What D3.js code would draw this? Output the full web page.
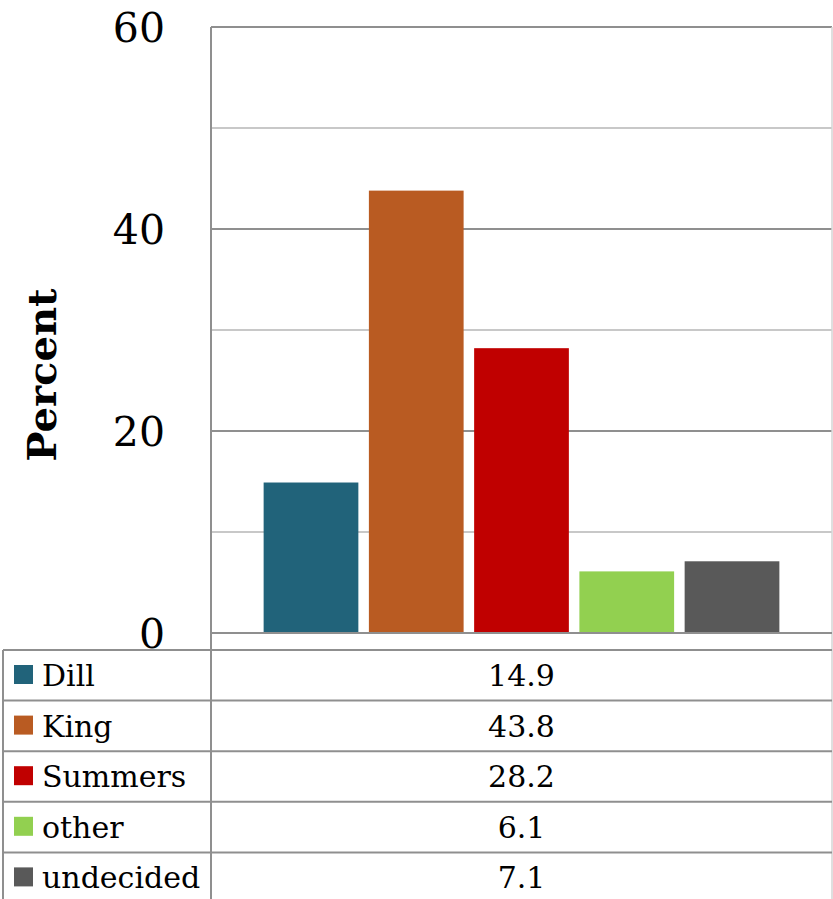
<!DOCTYPE html>
<html>
<head>
<meta charset="utf-8">
<script src="https://cdn.jsdelivr.net/npm/d3@7"></script>
<style>
  html, body { margin: 0; padding: 0; background: #fff; }
  svg { display: block; }
  text { font-family: "DejaVu Serif", "Liberation Serif", serif; fill: #000; }
</style>
</head>
<body>
<svg id="chart" width="833" height="899"></svg>
<script>
// Poll results (percent) by candidate
const series = ["Dill", "King", "Summers", "other", "undecided"];
const values = [14.9, 43.8, 28.2, 6.1, 7.1];
const colors = ["#21637a", "#b95b22", "#c00000", "#92d050", "#595959"];
const yTicks = [0, 20, 40, 60];
const yMinorTicks = [10, 30, 50];
const yTitle = "Percent";

const W = 833, H = 899;
const plot = { left: 211, right: 832, top: 27, bottom: 633 };
const table = { left: 3, top: 650, rowH: 50.6 };

const svg = d3.select("#chart");

const y = d3.scaleLinear().domain([0, 60]).range([plot.bottom, plot.top]);
const x = d3.scaleBand()
  .domain(series)
  .range([plot.left, plot.right])
  .paddingInner(0.1)
  .paddingOuter(0.5);

// Gridlines: lighter minor lines at odd tens, darker major lines
svg.append("g").selectAll("line.minor")
  .data(yMinorTicks).join("line")
  .attr("x1", plot.left).attr("x2", plot.right)
  .attr("y1", d => y(d)).attr("y2", d => y(d))
  .attr("stroke", "#c8c8c8").attr("stroke-width", 2);

svg.append("g").selectAll("line.major")
  .data(yTicks).join("line")
  .attr("x1", plot.left).attr("x2", plot.right)
  .attr("y1", d => y(d)).attr("y2", d => y(d))
  .attr("stroke", "#8f8f8f").attr("stroke-width", 2);

// Plot right border
svg.append("line")
  .attr("x1", plot.right).attr("x2", plot.right)
  .attr("y1", plot.top).attr("y2", H)
  .attr("stroke", "#d4d4d4").attr("stroke-width", 1.5);

// Bars
svg.append("g").selectAll("rect")
  .data(series.map((s, i) => ({ s, v: values[i], c: colors[i] })))
  .join("rect")
  .attr("x", d => x(d.s))
  .attr("width", x.bandwidth())
  .attr("y", d => y(d.v))
  .attr("height", d => y(0) - y(d.v))
  .attr("fill", d => d.c);

// Baseline drawn over bars
svg.append("line")
  .attr("x1", plot.left).attr("x2", plot.right)
  .attr("y1", y(0)).attr("y2", y(0))
  .attr("stroke", "#8f8f8f").attr("stroke-width", 2);

// Y axis via d3 axis, styled
const yAxis = d3.axisLeft(y).tickValues(yTicks).tickSize(0).tickPadding(0);
const gy = svg.append("g")
  .attr("transform", `translate(${plot.left},0)`)
  .call(yAxis);
gy.select(".domain").remove();
gy.selectAll(".tick text")
  .attr("x", 165 - plot.left)
  .attr("dy", "0.36em")
  .attr("text-anchor", "end")
  .style("font-family", '"DejaVu Serif", serif')
  .style("font-size", "41px")
  .attr("fill", "#000");

// Vertical axis line (continues down through the data table)
svg.append("line")
  .attr("x1", plot.left).attr("x2", plot.left)
  .attr("y1", plot.top).attr("y2", H)
  .attr("stroke", "#8f8f8f").attr("stroke-width", 2);

// Axis title
svg.append("text")
  .attr("transform", `translate(56, ${(plot.top + plot.bottom) / 2 + 45}) rotate(-90)`)
  .attr("text-anchor", "middle")
  .style("font-size", "40px")
  .style("font-weight", "bold")
  .text(yTitle);

// Data table
const rows = svg.append("g");
const rowY = i => table.top + i * table.rowH;

rows.selectAll("line.row")
  .data(d3.range(series.length + 1))
  .join("line")
  .attr("x1", table.left).attr("x2", plot.right)
  .attr("y1", i => rowY(i)).attr("y2", i => rowY(i))
  .attr("stroke", "#8f8f8f").attr("stroke-width", 2);

rows.append("line")
  .attr("x1", table.left).attr("x2", table.left)
  .attr("y1", table.top).attr("y2", H)
  .attr("stroke", "#8f8f8f").attr("stroke-width", 2);

const rowG = rows.selectAll("g.r")
  .data(series.map((s, i) => ({ s, v: values[i], c: colors[i], i })))
  .join("g");

rowG.append("rect")
  .attr("x", 14).attr("width", 19)
  .attr("y", d => rowY(d.i) + 15).attr("height", 19)
  .attr("fill", d => d.c);

rowG.append("text")
  .attr("x", 42)
  .attr("y", d => rowY(d.i) + 36)
  .style("font-size", "30px")
  .text(d => d.s);

rowG.append("text")
  .attr("x", (plot.left + plot.right) / 2)
  .attr("y", d => rowY(d.i) + 36)
  .attr("text-anchor", "middle")
  .style("font-size", "30px")
  .text(d => d3.format(".1f")(d.v));
</script>
</body>
</html>
